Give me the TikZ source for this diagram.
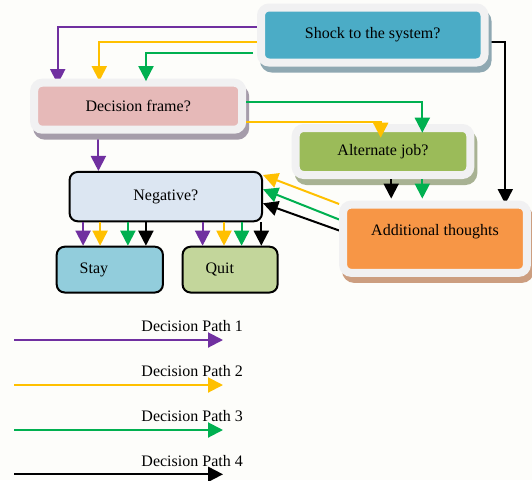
\documentclass[tikz,border=0pt]{standalone}
\usepackage{fontspec}
\setmainfont{Liberation Serif}
\usetikzlibrary{arrows.meta}
\pgfdeclarelayer{bg}
\pgfsetlayers{bg,main}
\definecolor{pagebg}{HTML}{FDFDFA}
\definecolor{framegray}{HTML}{F1F1F2}
\definecolor{shockblue}{HTML}{4BACC6}
\definecolor{shockshadow}{HTML}{8FA8B2}
\definecolor{framepink}{HTML}{E6B9B8}
\definecolor{frameshadow}{HTML}{A59CAA}
\definecolor{jobgreen}{HTML}{9BBB59}
\definecolor{jobshadow}{HTML}{A8B293}
\definecolor{thoughtorange}{HTML}{F79646}
\definecolor{thoughtshadow}{HTML}{CC9E80}
\definecolor{negfill}{HTML}{DCE6F2}
\definecolor{stayfill}{HTML}{92CDDC}
\definecolor{quitfill}{HTML}{C3D69B}
\definecolor{pathpurple}{HTML}{7030A0}
\definecolor{pathyellow}{HTML}{FFC000}
\definecolor{pathgreen}{HTML}{00B050}
\begin{document}
\begin{tikzpicture}[x=1pt,y=-1pt,
  font=\fontsize{16}{19}\selectfont,
  panel/.style 2 args={draw=framegray, line width=8pt, rounded corners=8pt, fill=#1,
    preaction={draw=#2, fill=#2, line width=8pt, transform canvas={xshift=3pt,yshift=-6pt}}},
  choice/.style={draw=black, line width=2pt, rounded corners=8pt, fill=#1},
  route/.style={line width=2pt, draw=#1, -{Triangle[length=15pt,width=15pt]}}]
\begin{pgfonlayer}{bg}
\fill[pagebg] (0,0) rectangle (532,480);
\end{pgfonlayer}
\useasboundingbox (0,0) rectangle (532,480);
\node[panel={shockblue}{shockshadow}, minimum width=223.5pt, minimum height=55pt] (S) at (372.75,35) {Shock to the system?};
\node[panel={framepink}{frameshadow}, minimum width=208pt, minimum height=47pt] (F) at (138.2,106.2) {Decision frame?};
\node[panel={jobgreen}{jobshadow}, minimum width=174.6pt, minimum height=47pt] (J) at (383,151.5) {Alternate job?};
\node[panel={thoughtorange}{thoughtshadow}, minimum width=183.8pt, minimum height=68.2pt, text depth=18pt] (A) at (435,238.7) {Additional thoughts};
\node[choice=negfill, minimum width=192.4pt, minimum height=49.3pt] (N) at (165.8,196.6) {Negative?};
\node[choice=stayfill, minimum height=45.8pt, text width=60.2pt, inner xsep=23pt, align=left] (Y) at (109.8,269.6) {Stay};
\node[choice=quitfill, minimum height=45.8pt, text width=49pt, inner xsep=23pt, align=left] (Q) at (230.1,269.6) {Quit};
\begin{pgfonlayer}{bg}
\draw[route=pathpurple] ([yshift=8.5pt]S.west) -| ([xshift=-80.5pt,yshift=-5.4pt]F.north);
\draw[route=pathyellow] ([yshift=-6.7pt]S.west) -| ([xshift=-38.9pt,yshift=-2.4pt]F.north);
\draw[route=black] ([yshift=-6.5pt]S.east) -| ([xshift=70.3pt,yshift=-3.4pt]A.north);
\draw[route=pathpurple] ([xshift=-39.8pt]F.south) -- ([xshift=-39.8pt]F.south |- N.north);
\draw[route=pathyellow] ([yshift=34.7pt]A.west) -- ([yshift=21.6pt]N.east);
\draw[route=pathgreen] ([yshift=19.2pt]A.west) -- ([yshift=7.3pt]N.east);
\draw[route=black] ([yshift=8.2pt]A.west) -- ([yshift=-6.7pt]N.east);
\end{pgfonlayer}
\draw[route=pathgreen, shorten <=4pt] ([yshift=-17.6pt]S.west) -| ([xshift=7.8pt,yshift=-2.4pt]F.north);
\draw[route=pathgreen] ([yshift=4.5pt]F.east) -| ([xshift=39.3pt,yshift=-8.7pt]J.north);
\draw[route=pathyellow] ([yshift=-16.1pt]F.east) -| ([xshift=-2.3pt,yshift=-13.7pt]J.north);
\draw[route=black] ([xshift=8.2pt]J.south) -- ([xshift=8.2pt,yshift=2pt]J.south |- A.north);
\draw[route=pathgreen] ([xshift=39.3pt]J.south) -- ([xshift=39.3pt,yshift=2pt]J.south |- A.north);
\draw[route=pathpurple] ([xshift=-82.7pt]N.south) -- ([xshift=-82.7pt]N.south |- Y.north);
\draw[route=pathyellow] ([xshift=-65.7pt]N.south) -- ([xshift=-65.7pt]N.south |- Y.north);
\draw[route=pathgreen] ([xshift=-37.9pt]N.south) -- ([xshift=-37.9pt]N.south |- Y.north);
\draw[route=black] ([xshift=-19.9pt]N.south) -- ([xshift=-19.9pt]N.south |- Y.north);
\draw[route=pathpurple] ([xshift=36.8pt]N.south) -- ([xshift=36.8pt]N.south |- Q.north);
\draw[route=pathyellow] ([xshift=58.2pt]N.south) -- ([xshift=58.2pt]N.south |- Q.north);
\draw[route=pathgreen] ([xshift=75.8pt]N.south) -- ([xshift=75.8pt]N.south |- Q.north);
\draw[route=black] ([xshift=95.5pt]N.south) -- ([xshift=95.5pt]N.south |- Q.north);
% legend
\coordinate (L1) at (14,340);
\coordinate (E1) at (223,340);
\coordinate (L2) at (14,385);
\coordinate (E2) at (223,385);
\coordinate (L3) at (14,430);
\coordinate (E3) at (223,430);
\coordinate (L4) at (14,474.3);
\coordinate (E4) at (223,474.3);
\node[anchor=base east, inner sep=0pt] (P1) at (243,331.7) {Decision Path 1};
\node[anchor=base east, inner sep=0pt] (P2) at (243,376.7) {Decision Path 2};
\node[anchor=base east, inner sep=0pt] (P3) at (243,421.7) {Decision Path 3};
\node[anchor=base east, inner sep=0pt] (P4) at (243,466.7) {Decision Path 4};
\draw[route=pathpurple] (L1) -- (E1);
\draw[route=pathyellow] (L2) -- (E2);
\draw[route=pathgreen] (L3) -- (E3);
\draw[route=black] (L4) -- (E4);
\end{tikzpicture}
\end{document}
